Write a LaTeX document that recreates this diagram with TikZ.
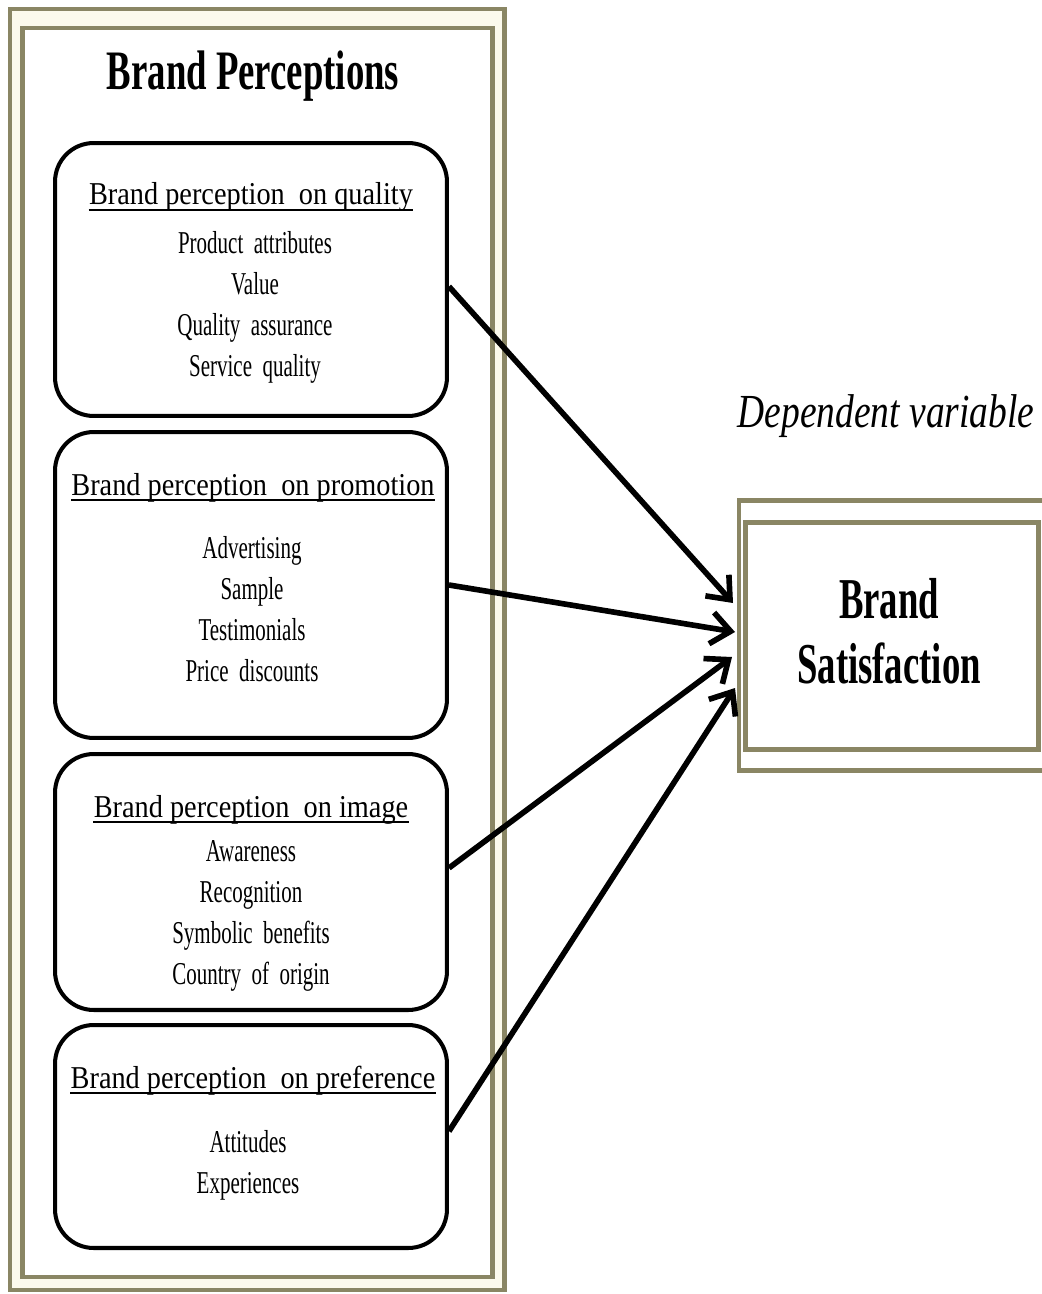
\documentclass[tikz,border=0pt]{standalone}
\usepackage{fontspec}
\setmainfont{Liberation Serif}
\newfontfamily\narrowserif[FakeStretch=0.66]{Liberation Serif}
\newfontfamily\satserif[FakeStretch=0.635]{Liberation Serif}
\newfontfamily\headserif[FakeStretch=0.89]{Liberation Serif}
\newfontfamily\depserif[FakeStretch=0.79]{Liberation Serif}
\usepackage{xcolor}
\usepackage{tikz}
\usetikzlibrary{arrows.meta,positioning}

\definecolor{framegold}{RGB}{138,134,100}
\definecolor{framecream}{RGB}{252,250,236}

\begin{document}
\begin{tikzpicture}[
    x=0.02cm, y=-0.02cm,
    panel/.style={draw=framegold, line width=2.8pt},
    group/.style={rectangle, rounded corners=22pt, draw, line width=2.3pt, minimum width=7.84cm},
    head/.style={anchor=base, inner sep=0pt, font=\headserif\fontsize{18.1pt}{22pt}\selectfont},
    items/.style={anchor=base, inner sep=0pt, align=center, font=\narrowserif\fontsize{18.1pt}{23.2pt}\selectfont},
    uline/.style={line width=1.1pt},
    arrow/.style={-{Straight Barb[length=11pt,width=18pt]}, line width=3.2pt}
]
% Background
\fill[white] (0,0) rectangle (1041,1294);
\useasboundingbox (0,0) rectangle (1041,1294);

% Left panel
\draw[panel, fill=framecream] (10,9) rectangle (504.5,1290);
\draw[panel, fill=white] (22.5,28) rectangle (492.5,1277);
\node[anchor=base, font=\narrowserif\bfseries\fontsize{31.7pt}{36pt}\selectfont] (title) at (253,90) {Brand Perceptions};

% Groups
\node[group, minimum height=5.46cm] (q1) at (251,279.5) {};
\node[group, minimum height=6.12cm] (q2) at (251,585) {};
\node[group, minimum height=5.12cm] (q3) at (251,882) {};
\node[group, minimum height=4.46cm] (q4) at (251,1136.5) {};

% Headings
\node[head] (h1) at (251,205) {Brand perception\ \ on quality};
\node[head] (h2) at (253,495) {Brand perception\ \ on promotion};
\node[head] (h3) at (251,817) {Brand perception\ \ on image};
\node[head] (h4) at (253,1088) {Brand perception\ \ on preference};
\draw[uline] ([yshift=-3pt]h1.base west) -- ([yshift=-3pt]h1.base east);
\draw[uline] ([yshift=-3pt]h2.base west) -- ([yshift=-3pt]h2.base east);
\draw[uline] ([yshift=-3pt]h3.base west) -- ([yshift=-3pt]h3.base east);
\draw[uline] ([yshift=-3pt]h4.base west) -- ([yshift=-3pt]h4.base east);

% Items (base = last line)
\node[items] (i1) at (255,376) {Product\ \ attributes\\Value\\Quality\ \ assurance\\Service\ \ quality};
\node[items] (i2) at (252,681) {Advertising\\Sample\\Testimonials\\Price\ \ discounts};
\node[items] (i3) at (251,984) {Awareness\\Recognition\\Symbolic\ \ benefits\\Country\ \ of\ \ origin};
\node[items] (i4) at (248,1193) {Attitudes\\Experiences};

% Right panel
\node[anchor=base, font=\depserif\itshape\fontsize{27pt}{30pt}\selectfont] (dep) at (886,427) {Dependent variable};
\draw[panel] (739,500.5) rectangle (1048,770.5);
\draw[panel] (745.5,522.5) rectangle (1038.5,749.5);
\node[anchor=base, align=center, font=\satserif\bfseries\fontsize{32.9pt}{36.8pt}\selectfont] (sat) at (889,683) {Brand\\Satisfaction};

% Arrows
\coordinate (in1) at (733,603);
\coordinate (in2) at (735,632);
\coordinate (in3) at (732,657);
\coordinate (in4) at (735,688);
\draw[arrow] ([yshift=-4pt]q1.east) -- (in1);
\draw[arrow] (q2.east) -- (in2);
\draw[arrow] ([yshift=8pt]q3.east) -- (in3);
\draw[arrow] ([yshift=3pt]q4.east) -- (in4);

\end{tikzpicture}
\end{document}
